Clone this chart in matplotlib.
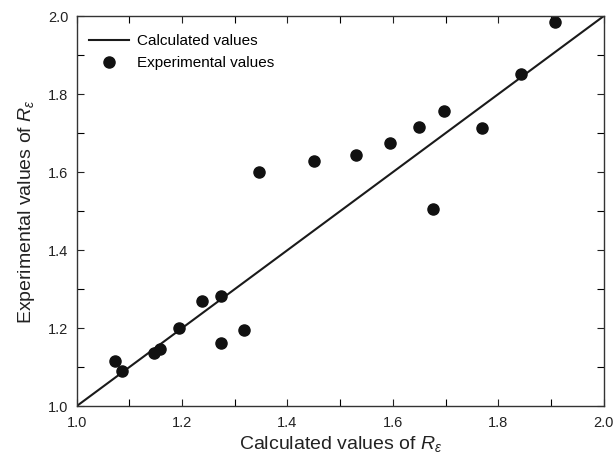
import matplotlib
matplotlib.use("Agg")
import matplotlib.pyplot as plt
from matplotlib.ticker import MultipleLocator

plt.rcParams["font.family"] = ["Liberation Sans", "DejaVu Sans"]
plt.rcParams["mathtext.fontset"] = "custom"
plt.rcParams["mathtext.rm"] = "Liberation Sans"
plt.rcParams["mathtext.it"] = "Liberation Sans:italic"

# calculated vs experimental R_eps
calc_vals = [1.073, 1.086, 1.147, 1.158, 1.195, 1.238, 1.273, 1.273, 1.317, 1.345,
             1.451, 1.530, 1.595, 1.650, 1.698, 1.676, 1.769, 1.843, 1.907]
exp_vals = [1.116, 1.090, 1.136, 1.147, 1.200, 1.269, 1.283, 1.161, 1.195, 1.600,
            1.629, 1.644, 1.674, 1.715, 1.756, 1.505, 1.712, 1.852, 1.984]
line_x = [1.0, 2.0]
line_y = [1.0, 2.0]

fig = plt.figure(figsize=(6.14, 4.63), dpi=100)
ax = fig.add_axes([0.125, 0.123, 0.858, 0.842])

ax.plot(line_x, line_y, color="#1a1a1a", lw=1.5, label="Calculated values")
ax.plot(calc_vals, exp_vals, "o", color="#111111", ms=8, label="Experimental values")

ax.set_xlim(1.0, 2.0)
ax.set_ylim(1.0, 2.0)
ax.xaxis.set_major_locator(MultipleLocator(0.2))
ax.yaxis.set_major_locator(MultipleLocator(0.2))
ax.xaxis.set_minor_locator(MultipleLocator(0.1))
ax.yaxis.set_minor_locator(MultipleLocator(0.1))
ax.tick_params(which="both", direction="in", top=True, right=True, length=5, width=0.8)
ax.tick_params(labelsize=10.5, colors="#222222")
ax.tick_params(axis="x", pad=7)
ax.tick_params(axis="y", pad=6)
for s in ax.spines.values():
    s.set_linewidth(1.0)
    s.set_color("#333333")

ax.set_xlabel(r"Calculated values of $R_\varepsilon$", fontsize=14, color="#222222", labelpad=3)
ax.set_ylabel(r"Experimental values of $R_\varepsilon$", fontsize=14, color="#222222", labelpad=8)

ax.legend(loc="upper left", bbox_to_anchor=(0.012, 0.97), borderaxespad=0,
          frameon=False, fontsize=11, handlelength=2.6, handletextpad=0.5,
          labelspacing=0.55)

fig.savefig("out.png", dpi=100)
